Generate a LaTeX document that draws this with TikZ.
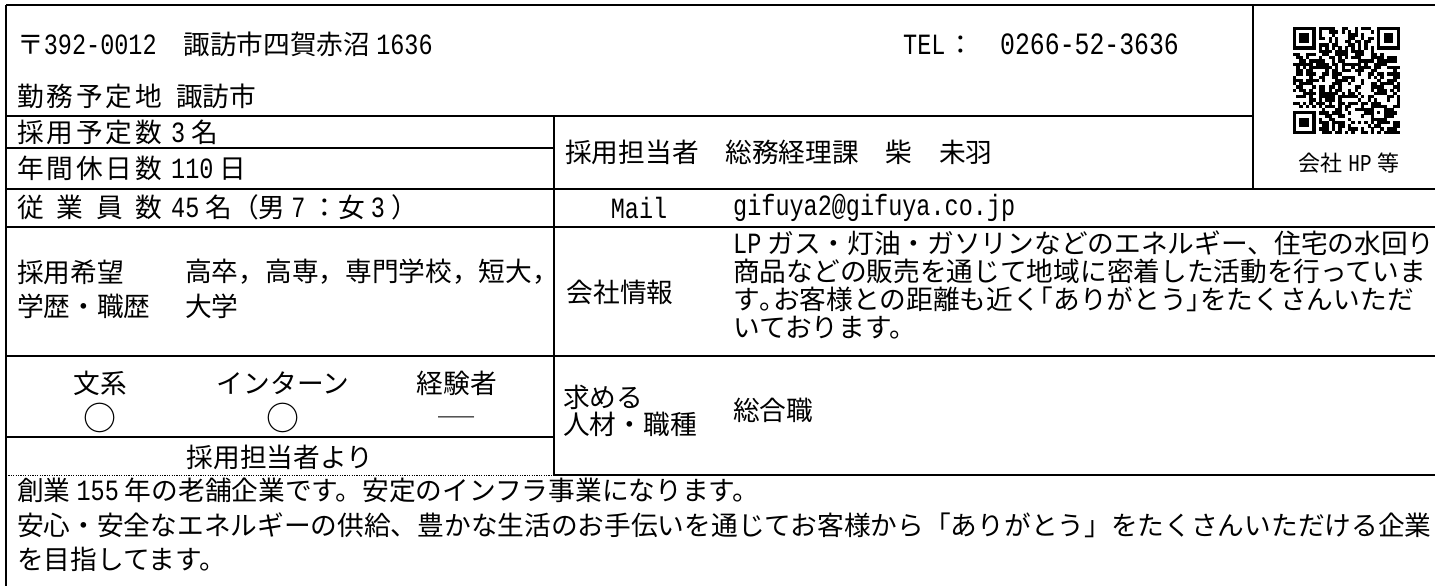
\documentclass[tikz,border=0pt]{standalone}
\usepackage{graphicx}
\usepackage{fontspec}
\setmainfont{Noto Sans CJK JP}
\newfontfamily\hwfont[Scale=1.1,FakeStretch=0.8]{Liberation Mono}
\newfontfamily\haltfont[RawFeature=+halt]{Noto Sans CJK JP}
\newcommand{\mainfs}{\fontsize{26.7}{32}\selectfont}
\newcommand{\smallfs}{\fontsize{22}{26}\selectfont}
\newcommand{\spreadlbl}[1]{\makebox[145pt][s]{#1}}
\newcommand{\hwt}[1]{\hspace{6pt}{\hwfont #1}\hspace{6pt}}
\begin{document}
\begin{tikzpicture}[x=1pt,y=-1pt,
  every node/.style={inner sep=0pt,font=\mainfs},
  rule/.style={line width=1.3pt,black},
  dotrule/.style={line width=0.9pt,black,dash pattern=on 1.2pt off 1.2pt},
  lbl/.style={anchor=west},
  ctr/.style={anchor=center},
  blk/.style={anchor=north west,align=left}]
\useasboundingbox (0,0) rectangle (1435,586);
\fill[white] (0,0) rectangle (1435,586);

% table rules
\draw[rule] (6,5) -- (1435,5);
\draw[rule] (6,5) -- (6,586);
\draw[rule] (6,116) -- (1253,116);
\draw[rule] (1253,5) -- (1253,189);
\draw[rule] (6,148) -- (554,148);
\draw[rule] (6,189) -- (1435,189);
\draw[rule] (6,227) -- (1435,227);
\draw[rule] (6,356) -- (1435,356);
\draw[rule] (6,437) -- (554,437);
\draw[dotrule] (6,475) -- (554,475);
\draw[rule] (554,475) -- (1435,475);
\draw[rule] (554,116) -- (554,475);

% header
\node[lbl] (addr) at (17,44) {〒{\hwfont 392-0012}　諏訪市四賀赤沼\hwt{1636}};
\node[lbl] (tel) at (903,44) {{\hwfont TEL}\hspace{2pt}：\hspace{26pt}{\fontsize{28.2}{32}\selectfont\hwfont 0266-52-3636}};
\node[lbl] (loc) at (17,96) {\spreadlbl{勤\hfil 務\hfil 予\hfil 定\hfil 地}\hspace{14pt}諏訪市};

% left column
\node[lbl] (num) at (17,132) {\spreadlbl{採\hfil 用\hfil 予\hfil 定\hfil 数}\hspace{9pt}{\hwfont 3}\hspace{6pt}名};
\node[lbl] (hol) at (17,168) {\spreadlbl{年\hfil 間\hfil 休\hfil 日\hfil 数}\hspace{9pt}{\hwfont 110}\hspace{6pt}日};
\node[lbl] (emp) at (17,207) {\spreadlbl{従\hfil 業\hfil 員\hfil 数}\hspace{9pt}{\hwfont 45}\hspace{6pt}名（男\hwt{7}：女\hwt{3}）};
\node[lbl] (edu1) at (17,272) {採用希望};
\node[lbl] (edu2) at (17,306) {学歴・職歴};
\node[lbl] (edu3) at (185,272) {高卒，高専，専門学校，短大，};
\node[lbl] (edu4) at (185,306) {大学};
\node[ctr] (bk) at (100,383) {文系};
\node[ctr] (intern) at (283,383) {インターン};
\node[ctr] (exper) at (457,383) {経験者};
\node[ctr,font=\fontsize{33}{36}\selectfont] (o1) at (100,418) {○};
\node[ctr,font=\fontsize{33}{36}\selectfont] (o2) at (283,418) {○};
\node[ctr] (dsh) at (457,422) {\scalebox{1.35}[1]{─}};
\node[ctr] (from) at (280,457) {採用担当者より};

% right column
\node[lbl] (rec) at (565,152) {採用担当者　総務経理課　柴　未羽};
\node[ctr] (mail) at (639,208) {{\hwfont Mail}};
\node[lbl] (mailv) at (733,208) {{\hwfont gifuya2@gifuya.co.jp}};
\node[ctr] (info) at (620,292) {会社情報};
\node[blk,font=\fontsize{26.7}{28}\selectfont] (infot) at (733,231) {{\hwfont LP} ガス・灯油・ガソリンなどのエネルギー、住宅の水回り\\商品などの販売を通じて地域に密着した活動を行っていま\\す{\haltfont 。}お客様との距離も近く{\haltfont 「}ありがとう{\haltfont 」}をたくさんいただ\\いております。};
\node[blk,font=\fontsize{26.7}{27}\selectfont] (want) at (563,385) {求める\\人材・職種};
\node[lbl] (job) at (733,410) {総合職};

% QR
\node[ctr,font=\smallfs] (hp) at (1349,163) {会社\hwt{HP}等};
\begin{scope}[shift={(1293,27)},x=3.24pt,y=-3.24pt]
  \pgfmathsetseed{2718}
  \foreach \i in {0,...,32}{
    \foreach \j in {0,...,32}{
      \pgfmathtruncatemacro\qsk{((\i<8)&&(\j<8))||((\i>24)&&(\j<8))||((\i<8)&&(\j>24))||((\i>23)&&(\i<29)&&(\j>23)&&(\j<29))||(\i==6)||(\j==6) ? 1 : 0}
      \pgfmathsetmacro\qrv{rnd}
      \ifnum\qsk=0
        \ifdim\qrv pt<0.52pt
          \fill (\i,\j) rectangle ++(1.02,1.02);
        \fi
      \fi
    }
  }
  \foreach \a/\b in {0/0,26/0,0/26}{
    \fill (\a,\b) rectangle ++(7,7);
    \fill[white] (\a+1,\b+1) rectangle ++(5,5);
    \fill (\a+2,\b+2) rectangle ++(3,3);
  }
  \fill (24,24) rectangle ++(5,5);
  \fill[white] (25,25) rectangle ++(3,3);
  \fill (26,26) rectangle ++(1,1);
  \foreach \k in {8,10,...,24}{
    \fill (\k,6) rectangle ++(1,1);
    \fill (6,\k) rectangle ++(1,1);
  }
\end{scope}

% message
\node[blk,font=\fontsize{26.7}{34.5}\selectfont] (msg) at (17,478) {創業\hwt{155}年の老舗企業です。安定のインフラ事業になります。\\安心・安全なエネルギーの供給、豊かな生活のお手伝いを通じてお客様から「ありがとう」をたくさんいただける企業\\を目指してます。};
\end{tikzpicture}
\end{document}
